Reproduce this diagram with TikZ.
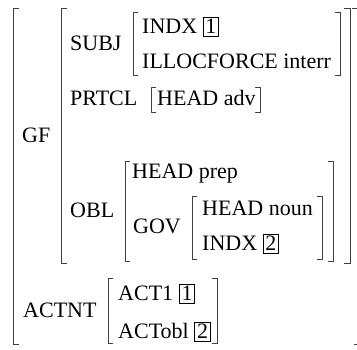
\documentclass[tikz,border=0pt]{standalone}
\usepackage{fontspec}
\setmainfont{Liberation Serif}
\newcommand\LBrk[4]{\draw[brk] (#1+#4,#2) -- (#1,#2) -- (#1,#3) -- (#1+#4,#3);}
\newcommand\RBrk[4]{\draw[brk] (#1-#4,#2) -- (#1,#2) -- (#1,#3) -- (#1-#4,#3);}
\tikzset{
  lbl/.style={anchor=base west, inner sep=0pt, font=\fontsize{22}{26}\selectfont},
  numbox/.style={draw, line width=0.8pt, anchor=base west, inner xsep=2.2pt, inner ysep=0pt,
    text height=16pt, text depth=3.5pt, font=\fontsize{22}{26}\selectfont},
  brk/.style={line width=1pt, draw=black!75},
}
\begin{document}
\begin{tikzpicture}[x=1pt,y=-1pt]
\useasboundingbox (0,0) rectangle (357,349);
\clip (0,0) rectangle (357,349);
% outer
\LBrk{13}{8}{344}{6}
\draw[brk] (352,8) -- (357,8);
\draw[brk] (354,344) -- (357,344);
% GF
\node[lbl] (gf) at (22,142) {GF};
\LBrk{61}{8}{263}{6}
\RBrk{350}{8}{263}{6}
% SUBJ
\node[lbl] (subj) at (70,50) {SUBJ};
\LBrk{133}{12}{75}{5}
\RBrk{340}{12}{75}{5}
\node[lbl] (indx1) at (142,33) {INDX};
\node[numbox] (b1) at ([xshift=5.5pt]indx1.base east) {1};
\node[lbl] (illoc) at (142,68) {ILLOCFORCE interr};
% PRTCL
\node[lbl] (prtcl) at (70,105) {PRTCL};
\LBrk{151}{87}{112}{5}
\node[lbl] (headadv) at (157,105) {HEAD adv};
\RBrk{260}{87}{112}{5}
% OBL
\node[lbl] (obl) at (70,217) {OBL};
\LBrk{125}{161}{261}{5}
\RBrk{333}{161}{261}{5}
\node[lbl] (headprep) at (132,178) {HEAD prep};
\node[lbl] (gov) at (133,233) {GOV};
\LBrk{192}{196}{259}{5}
\RBrk{322}{196}{259}{5}
\node[lbl] (headnoun) at (202,215) {HEAD noun};
\node[lbl] (indx2) at (202,250) {INDX};
\node[numbox] (b2) at ([xshift=5.5pt]indx2.base east) {2};
% ACTNT
\node[lbl] (actnt) at (23,317) {ACTNT};
\LBrk{108}{278}{343}{5}
\RBrk{217}{278}{343}{5}
\node[lbl] (act1) at (118,300) {ACT1};
\node[numbox] (b3) at ([xshift=5.5pt]act1.base east) {1};
\node[lbl] (actobl) at (118,338) {ACTobl};
\node[numbox] (b4) at ([xshift=5.5pt]actobl.base east) {2};
\end{tikzpicture}
\end{document}
